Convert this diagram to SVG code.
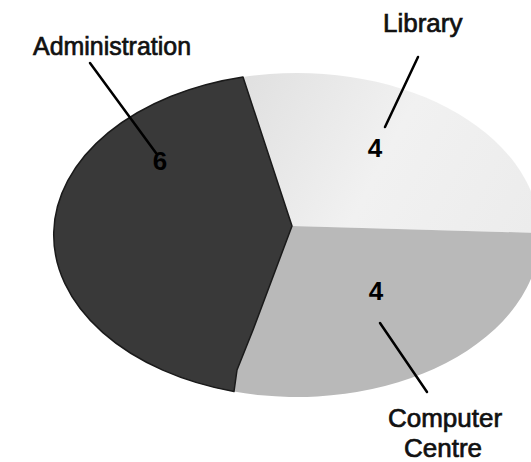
<svg xmlns="http://www.w3.org/2000/svg" width="531" height="462" viewBox="0 0 531 462">
  <defs>
    <linearGradient id="libGrad" x1="243" y1="77" x2="531" y2="230" gradientUnits="userSpaceOnUse">
      <stop offset="0" stop-color="#e0e0e0"/>
      <stop offset="0.5" stop-color="#f1f1f1"/>
      <stop offset="1" stop-color="#ececec"/>
    </linearGradient>
  </defs>
  <style>
    .label { font-family: "Liberation Sans", Arial, sans-serif; font-size: 26px; fill: #111; stroke: #111; stroke-width: 0.7; }
    .value { font-family: "Liberation Sans", Arial, sans-serif; font-size: 26px; font-weight: bold; fill: #000; text-anchor: middle; }
    .leader { stroke: #000; stroke-width: 2.5; fill: none; stroke-linecap: round; }
  </style>
  <rect width="531" height="462" fill="#ffffff"/>

  <g id="library">
    <path d="M292,226 L243,77 A243,162 0 0 1 540,233 Z" fill="url(#libGrad)"/>
    <text class="value" x="375" y="157">4</text>
    <text class="label" x="383" y="32">Library</text>
  </g>

  <g id="computer-centre">
    <path d="M292,226 L540,233 A243,162 0 0 1 234,391.5 L237,370 L253,330 Z" fill="#b9b9b9"/>
    <text class="value" x="376" y="300">4</text>
    <text class="label" x="445" y="427" text-anchor="middle">Computer</text>
    <text class="label" x="443" y="457" text-anchor="middle">Centre</text>
  </g>

  <g id="administration">
    <path d="M292,226 L243,77 A243,162 0 0 0 234,391.5 L237,370 L253,330 Z" fill="#393939" stroke="#1a1a1a" stroke-width="1.5" stroke-linejoin="round"/>
    <text class="value" x="160" y="170">6</text>
    <text class="label" x="33" y="55" textLength="158" lengthAdjust="spacingAndGlyphs">Administration</text>
  </g>

  <g id="connectors">
    <line class="leader" x1="90" y1="63" x2="156" y2="153"/>
    <line class="leader" x1="418" y1="57" x2="385" y2="127"/>
    <line class="leader" x1="380" y1="323" x2="427" y2="392"/>
  </g>
</svg>
